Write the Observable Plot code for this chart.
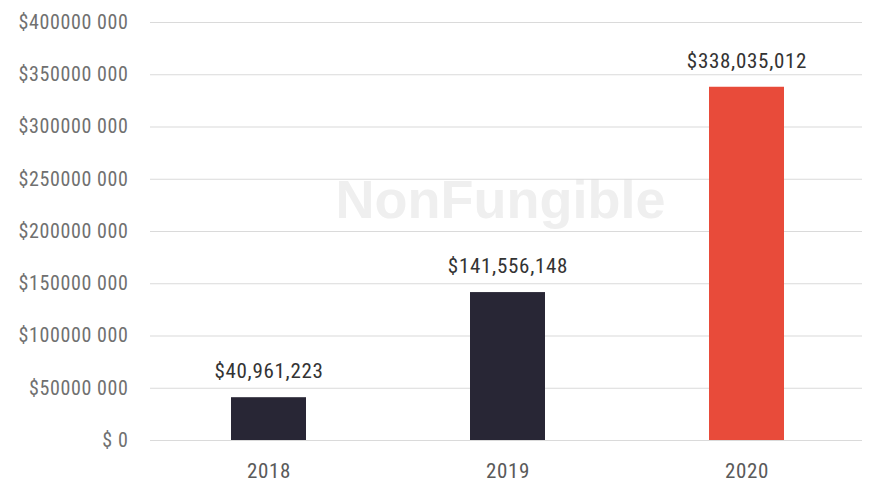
<!DOCTYPE html>
<html>
<head>
<meta charset="utf-8">
<script src="https://cdn.jsdelivr.net/npm/d3@7"></script>
<script src="https://cdn.jsdelivr.net/npm/@observablehq/plot@0.6"></script>
<style>
  html, body { margin: 0; padding: 0; background: #fff; }
  #chart { width: 869px; height: 488px; }
  .ticks text { letter-spacing: 0.6px; }
  .vals text { letter-spacing: 0.7px; }
</style>
</head>
<body>
<div id="chart"></div>
<script>
const years = ["2018", "2019", "2020"];
const values = [40961223, 141556148, 338035012];
const valueLabels = ["$40,961,223", "$141,556,148", "$338,035,012"];
const barColors = ["#282635", "#282635", "#e84b3a"];
const yTicks = [0, 50000000, 100000000, 150000000, 200000000, 250000000, 300000000, 350000000, 400000000];
const yTickLabels = ["$ 0", "$50000 000", "$100000 000", "$150000 000", "$200000 000", "$250000 000", "$300000 000", "$350000 000", "$400000 000"];

const data = years.map((y, i) => ({year: y, value: values[i], label: valueLabels[i], color: barColors[i]}));
const font = "'Liberation Sans Narrow', 'Roboto Condensed', 'Arial Narrow', Roboto, sans-serif";

const chart = Plot.plot({
  width: 869,
  height: 488,
  marginLeft: 150,
  marginRight: 7,
  marginTop: 22,
  marginBottom: 48,
  style: {fontFamily: font, fontSize: "15px", color: "#555", background: "transparent"},
  x: {domain: years, range: [150, 866], paddingInner: 0.686, paddingOuter: 0.34, label: null},
  y: {domain: [0, 400000000], label: null},
  marks: [
    Plot.text(["NonFungible"], {frameAnchor: "middle", dx: -6, dy: -31, fontSize: 54, fontWeight: "bold", fill: "#efefef", fontFamily: "'Liberation Sans', Arial, sans-serif"}),
    Plot.gridY(yTicks, {stroke: "#dadada", strokeOpacity: 1, strokeWidth: 1.2}),
    Plot.axisY(yTicks, {tickFormat: (d, i) => yTickLabels[i], tickSize: 0, tickPadding: 22, fontSize: 20, fill: "#707070", label: null, className: "ticks"}),
    Plot.axisX({tickSize: 0, tickPadding: 23, fontSize: 21, fill: "#5a5a5a", label: null, className: "ticks"}),
    Plot.barY(data, {x: "year", y: "value", fill: "color"}),
    Plot.text(data, {x: "year", y: "value", text: "label", dy: -26, fontSize: 21, fill: "#333", className: "vals"})
  ]
});
document.getElementById("chart").appendChild(chart);
</script>
</body>
</html>
